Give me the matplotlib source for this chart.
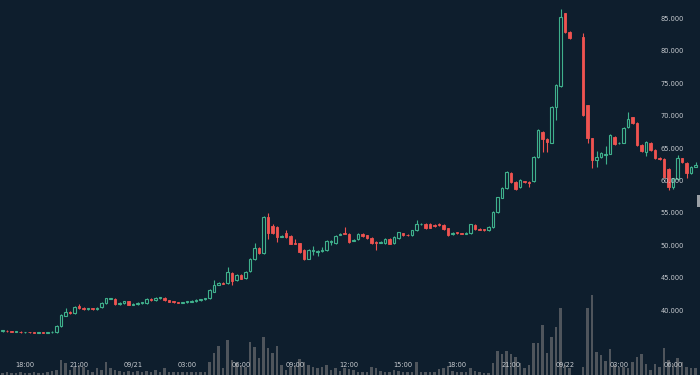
import numpy as np
import pandas as pd
import matplotlib
matplotlib.use("Agg")
import matplotlib.pyplot as plt
from matplotlib.patches import Rectangle

nan = np.nan

# ---- data (15-minute candles) ----
start_time = "2022-09-20 16:45"
opens = [36.85, 36.9, 36.8, 36.7, 36.75, 36.65, 36.7, 36.65, 36.6, 36.65,
         36.6, 36.65, 36.7, 37.6, 39.2, 39.8, 39.65, 40.7, 40.4, 40.25,
         40.35, 40.2, 40.5, 41.15, 41.85, 41.85, 41.0, 41.15, 41.45, 40.9,
         41.0, 41.15, 41.15, 41.8, 41.65, 41.9, 41.95, 41.6, 41.4, 41.3,
         41.2, 41.3, 41.4, 41.5, 41.65, 41.75, 41.9, 42.9, 44.0, 44.3,
         44.2, 45.8, 44.7, 45.5, 45.0, 46.1, 47.9, 49.65, 48.9, 54.45,
         53.1, 52.9, 51.4, 51.9, 51.5, 50.5, 50.4, 49.4, 48.0, 49.2,
         49.1, 49.2, 49.35, 50.6, 50.4, 51.7, 51.95, 51.8, 50.8, 51.0,
         51.8, 51.6, 51.2, 50.6, 50.5, 50.4, 51.05, 50.4, 51.2, 51.95,
         51.7, 51.6, 52.4, 53.3, 53.4, 53.35, 53.2, 53.35, 53.2, 52.7,
         51.8, 52.1, 51.95, 51.85, 51.95, 53.2, 52.65, 52.5, 52.4, 52.9,
         55.2, 57.4, 58.9, 61.25, 59.85, 59.0, 59.95, 59.9, 60.0, 63.7,
         67.55, 66.5, 65.9, 71.4, 74.65, 85.9, 83.0, nan, nan, 82.2,
         71.7, 66.6, 63.2, 63.7, 64.0, 64.2, 66.8, 65.8, 65.9, 68.3,
         69.85, 68.95, 65.55, 64.5, 65.9, 64.8, 63.55, 63.4, 61.9, 59.1,
         60.3, 63.5, 62.8, 61.25, 62.2]
closes = [36.9, 36.8, 36.7, 36.75, 36.65, 36.7, 36.65, 36.6, 36.65, 36.6,
          36.65, 36.7, 37.6, 39.3, 39.8, 39.65, 40.55, 40.4, 40.25, 40.35,
          40.2, 40.45, 41.15, 41.9, 41.9, 41.0, 41.15, 41.45, 40.9, 41.05,
          41.15, 41.2, 41.8, 41.65, 41.95, 41.95, 41.6, 41.4, 41.3, 41.2,
          41.3, 41.45, 41.55, 41.65, 41.75, 41.9, 43.2, 43.95, 44.2, 44.15,
          45.95, 44.55, 45.5, 44.9, 45.95, 47.95, 49.65, 48.9, 54.45, 51.95,
          51.95, 51.35, 51.55, 51.35, 50.3, 50.35, 49.05, 47.95, 49.35, 49.3,
          49.2, 49.35, 50.75, 50.7, 51.55, 51.8, 51.85, 50.6, 50.95, 51.8,
          51.5, 51.2, 50.4, 50.5, 50.6, 51.05, 50.3, 51.35, 52.1, 51.65,
          51.6, 52.4, 53.35, 53.4, 52.75, 52.8, 53.0, 53.2, 52.6, 51.65,
          52.0, 51.9, 51.85, 52.0, 53.3, 52.6, 52.5, 52.4, 52.9, 55.2,
          57.5, 58.9, 61.4, 59.85, 58.75, 60.15, 59.8, 59.7, 63.7, 67.85,
          66.5, 66.0, 71.4, 74.8, 85.3, 83.0, 82.05, nan, nan, 70.2,
          66.6, 63.2, 63.7, 64.3, 64.2, 67.1, 65.7, 65.9, 68.2, 69.55,
          68.95, 65.55, 64.6, 66.0, 64.8, 63.55, 63.4, 60.6, 59.1, 60.4,
          63.55, 62.9, 61.25, 62.2, 62.4]
highs = [37.0, 36.95, 36.85, 36.8, 36.8, 36.75, 36.75, 36.7, 36.7, 36.7,
         36.7, 36.8, 37.7, 39.5, 40.4, 39.9, 40.7, 41.0, 40.5, 40.45,
         40.4, 40.55, 41.25, 42.0, 42.0, 41.95, 41.25, 41.55, 41.55, 41.15,
         41.25, 41.3, 41.9, 41.9, 42.05, 42.05, 42.05, 41.7, 41.5, 41.4,
         41.4, 41.55, 41.65, 41.75, 41.85, 42.0, 43.3, 44.7, 44.35, 44.4,
         46.7, 45.9, 45.6, 45.6, 46.05, 48.05, 50.4, 49.75, 54.6, 55.05,
         53.3, 53.0, 51.65, 52.4, 51.6, 51.0, 50.5, 49.5, 49.45, 49.9,
         49.3, 49.8, 50.85, 50.9, 51.65, 51.9, 52.9, 51.9, 51.05, 51.9,
         51.9, 51.7, 51.3, 50.7, 50.7, 51.15, 51.15, 51.45, 52.2, 52.05,
         51.8, 52.5, 53.95, 53.5, 53.5, 53.45, 53.3, 53.45, 53.3, 52.8,
         52.1, 52.2, 52.05, 52.1, 53.4, 53.3, 52.75, 52.6, 53.0, 55.3,
         57.6, 59.0, 61.5, 61.35, 59.95, 60.25, 60.05, 60.0, 63.8, 67.95,
         67.65, 66.6, 71.5, 74.9, 86.5, 86.0, 83.1, nan, nan, 82.8,
         71.8, 66.7, 64.6, 64.4, 65.4, 67.2, 66.9, 66.0, 68.3, 70.65,
         69.95, 69.05, 65.65, 66.1, 66.0, 64.9, 63.65, 63.5, 62.0, 60.5,
         64.0, 63.6, 62.9, 62.3, 62.9]
lows = [36.75, 36.7, 36.65, 36.65, 36.6, 36.6, 36.6, 36.55, 36.55, 36.55,
        36.55, 36.6, 36.6, 37.5, 39.1, 39.5, 39.55, 40.3, 40.15, 40.15,
        40.1, 40.1, 40.4, 41.05, 41.75, 40.9, 40.9, 41.05, 40.8, 40.8,
        40.9, 41.05, 41.05, 41.55, 41.55, 41.8, 41.5, 41.3, 41.2, 41.1,
        41.1, 41.2, 41.3, 41.4, 41.55, 41.65, 41.8, 42.8, 43.9, 44.05,
        44.1, 43.95, 44.6, 44.8, 44.9, 46.0, 47.8, 48.8, 48.8, 51.05,
        51.85, 50.6, 51.3, 51.25, 50.2, 50.25, 48.95, 47.85, 47.9, 48.6,
        48.5, 49.1, 49.25, 50.1, 50.3, 51.6, 51.75, 50.5, 50.7, 50.9,
        51.4, 51.1, 50.3, 49.35, 50.4, 50.3, 50.2, 50.3, 51.1, 51.55,
        51.5, 51.5, 52.3, 53.2, 52.65, 52.7, 52.9, 53.1, 52.5, 51.55,
        51.7, 51.8, 51.75, 51.75, 51.85, 52.5, 52.4, 52.3, 52.3, 52.8,
        55.1, 57.3, 58.8, 59.75, 58.65, 58.9, 59.7, 59.1, 59.9, 63.6,
        64.5, 64.5, 65.8, 69.4, 74.5, 82.9, 81.95, nan, nan, 70.1,
        65.8, 62.0, 62.2, 63.6, 62.6, 64.1, 65.6, 65.7, 65.8, 68.2,
        68.85, 65.45, 64.5, 63.9, 64.7, 63.45, 63.3, 60.5, 58.6, 58.7,
        60.2, 62.8, 60.5, 61.15, 62.1]
volumes = [2, 3, 2, 2, 3, 2, 2, 3, 2, 2,
           3, 4, 5, 15, 12, 5, 8, 10, 8, 5,
           3, 7, 5, 13, 7, 5, 4, 3, 4, 3,
           4, 3, 4, 3, 5, 3, 7, 3, 3, 3,
           3, 3, 3, 3, 3, 3, 13, 22, 29, 7,
           35, 15, 12, 10, 8, 33, 28, 17, 38, 27,
           22, 29, 10, 5, 8, 10, 16, 13, 10, 8,
           7, 8, 10, 5, 7, 4, 7, 6, 5, 3,
           3, 3, 8, 7, 4, 3, 3, 5, 4, 3,
           3, 3, 13, 3, 3, 3, 3, 6, 7, 9,
           4, 3, 3, 3, 7, 4, 3, 2, 2, 12,
           24, 21, 24, 21, 18, 12, 7, 10, 32, 32,
           50, 22, 38, 48, 67, 10, 7, nan, nan, 8,
           67, 80, 23, 20, 14, 26, 10, 8, 8, 7,
           13, 18, 21, 11, 5, 11, 8, 27, 15, 11,
           17, 13, 8, 7, 7]
price_ticks = [40, 45, 50, 55, 60, 65, 70, 75, 80, 85]

# ---- style ----
BG = "#0e1e2d"
UP = "#3fb08c"
DOWN = "#ef5350"
VOL = "#4f555c"
TXT = "#c8ccd1"

o = np.array(opens, float)
c = np.array(closes, float)
h = np.array(highs, float)
l = np.array(lows, float)
v = np.array(volumes, float)
n = len(o)
idx = np.arange(n)
times = pd.date_range(start_time, periods=n, freq="15min")

fig = plt.figure(figsize=(7.0, 3.75), dpi=100)
fig.patch.set_facecolor(BG)

# volume axis (behind)
axv = fig.add_axes([0, 0, 1, 1])
axv.set_facecolor(BG)
axv.bar(idx, v, width=0.62, color=VOL, zorder=1)
axv.set_ylim(0, 375)
axv.set_xlim(-0.556, 155.0)
axv.axis("off")

# price axis
ax = fig.add_axes([0, 0, 1, 1], sharex=axv)
ax.patch.set_alpha(0)
ax.set_ylim(30.06, 87.93)
ax.axis("off")

up = c >= o
col = np.where(up, UP, DOWN)
ax.vlines(idx, l, h, colors=col, linewidth=0.8, zorder=2)
bottom = np.minimum(o, c)
height = np.maximum(np.abs(c - o), 0.12)
ax.bar(idx[up], height[up], bottom=bottom[up], width=0.62,
       facecolor=BG, edgecolor=UP, linewidth=0.8, zorder=3)
ax.bar(idx[~up], height[~up], bottom=bottom[~up], width=0.62,
       facecolor=DOWN, edgecolor=DOWN, linewidth=0.6, zorder=3)

# price labels (overlaid on the right)
for p in price_ticks:
    ax.text(0.944, p, f"{p:.3f}", transform=ax.get_yaxis_transform(),
            ha="left", va="center", fontsize=4.8, color=TXT,
            family="DejaVu Sans", zorder=5)

# time labels every 3 hours
for i, t in enumerate(times):
    if t.minute == 0 and t.hour % 3 == 0:
        lab = t.strftime("%m/%d") if t.hour == 0 else t.strftime("%H:%M")
        ax.text(i, 10 / 375.0, lab, transform=ax.get_xaxis_transform(),
                ha="center", va="center", fontsize=4.8, color=TXT,
                family="DejaVu Sans", zorder=5)

# small scroll handle on the right edge
fig.patches.append(Rectangle((697 / 700, 1 - 207 / 375), 3 / 700, 12 / 375,
                             transform=fig.transFigure, facecolor="#9aa0a6",
                             edgecolor="none"))

fig.savefig("out.png", dpi=100, facecolor=BG)
